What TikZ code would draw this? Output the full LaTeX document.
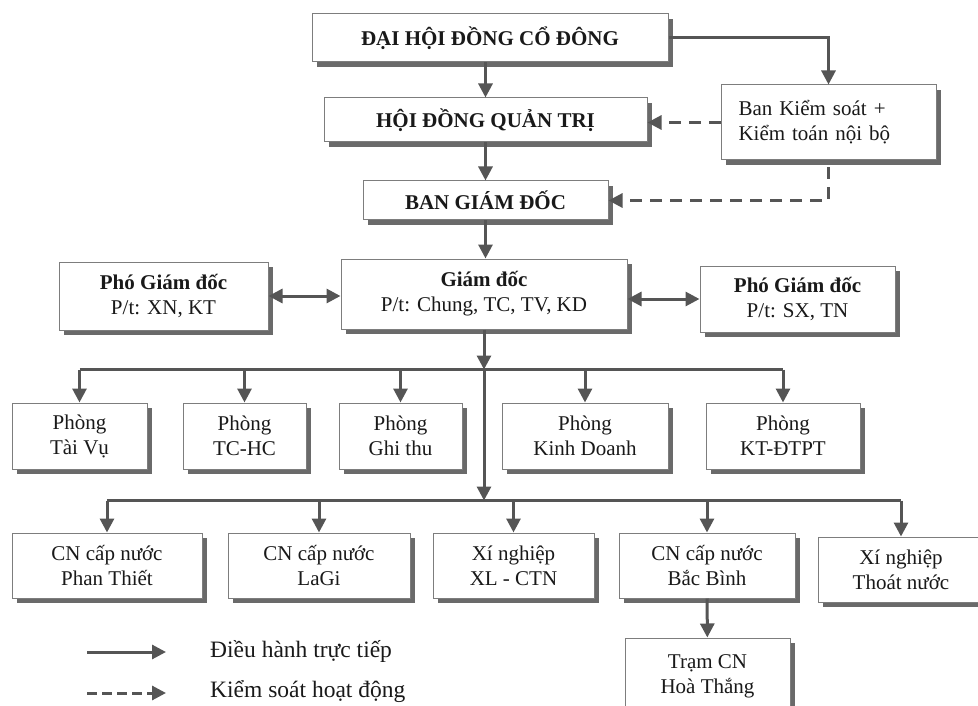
\documentclass[tikz,border=0pt]{standalone}
\usepackage{fontspec}
\setmainfont{Liberation Serif}
\usepackage{xcolor}
\usepackage{tikz}
\usetikzlibrary{arrows.meta, positioning, calc, shadows}
\definecolor{linegray}{RGB}{85, 85, 85}
\definecolor{boxgray}{RGB}{125, 125, 125}
\definecolor{shadowgray}{RGB}{90, 90, 90}
\definecolor{textgray}{RGB}{25, 25, 25}

\begin{document}
\begin{tikzpicture}[x=1pt, y=-1pt,
    unitbox/.style={draw=boxgray, line width=1pt, fill=white, align=center, text=textgray,
          inner sep=0pt, font=\fontsize{21}{25}\selectfont,
          drop shadow={shadow xshift=5pt, shadow yshift=-5pt, fill=shadowgray, opacity=0.9}},
    titlebox/.style={unitbox, font=\fontsize{21}{25}\selectfont\bfseries},
    phongbox/.style={unitbox, minimum height=66pt},
    cnbox/.style={unitbox, minimum height=65pt},
    direct/.style={line width=3pt, draw=linegray, -{Triangle[width=14pt, length=14pt]}},
    control/.style={direct, dash pattern=on 12pt off 8pt},
    mutual/.style={direct, {Triangle[width=14pt, length=14pt]}-{Triangle[width=14pt, length=14pt]}},
    bar/.style={line width=3pt, draw=linegray},
    legendtext/.style={anchor=west, inner sep=0pt, text=textgray, font=\fontsize{23.5}{27}\selectfont}]

    \path[use as bounding box] (0,0) rectangle (978,706);
    \clip (0,0) rectangle (978,706);

    % Nodes
    \node[titlebox, minimum width=356pt, minimum height=48pt] (dhdcd) at (490,38) {ĐẠI HỘI ĐỒNG CỔ ĐÔNG};
    \node[titlebox, minimum width=323pt, minimum height=44pt] (hdqt) at (485.5,120) {HỘI ĐỒNG QUẢN TRỊ};
    \node[unitbox, minimum width=215pt, minimum height=75pt, text width=180pt, align=left] (bks) at (828.5,122.5)
          {Ban Kiểm soát +\\Kiểm toán nội bộ};
    \node[titlebox, minimum width=245pt, minimum height=39pt] (bgd) at (485.5,200.5) {BAN GIÁM ĐỐC};

    \node[unitbox, minimum width=286pt, minimum height=70pt] (gd) at (484,294) {\textbf{Giám đốc}\\P/t: Chung, TC, TV, KD};
    \node[unitbox, minimum width=209pt, minimum height=68pt] (pgdxn) at (163.5,296) {\textbf{Phó Giám đốc}\\P/t: XN, KT};
    \node[unitbox, minimum width=195pt, minimum height=66pt] (pgdsx) at (797.5,299) {\textbf{Phó Giám đốc}\\P/t: SX, TN};

    \node[phongbox, minimum width=135pt] (taivu) at (79.5,436) {Phòng\\Tài Vụ};
    \node[phongbox, minimum width=123pt] (tchc) at (244.5,436) {Phòng\\TC-HC};
    \node[phongbox, minimum width=123pt] (ghithu) at (400.5,436) {Phòng\\Ghi thu};
    \node[phongbox, minimum width=166pt] (kinhdoanh) at (585,436) {Phòng\\Kinh Doanh};
    \node[phongbox, minimum width=154pt] (ktdtpt) at (783,436) {Phòng\\KT-ĐTPT};

    \node[cnbox, minimum width=190pt] (phanthiet) at (107,565.5) {CN cấp nước\\Phan Thiết};
    \node[cnbox, minimum width=182pt] (lagi) at (319,565.5) {CN cấp nước\\LaGi};
    \node[cnbox, minimum width=161pt] (xlctn) at (513.5,565.5) {Xí nghiệp\\XL - CTN};
    \node[cnbox, minimum width=176pt] (bacbinh) at (707,565.5) {CN cấp nước\\Bắc Bình};
    \node[cnbox, minimum width=166pt] (thoatnuoc) at (901,569.5) {Xí nghiệp\\Thoát nước};
    \node[unitbox, minimum width=165pt, minimum height=76pt] (hoathang) at (707.5,676) {Trạm CN\\Hoà Thắng};

    % Arrows
    \draw[direct] (hdqt.north |- dhdcd.south) -- (hdqt.north);
    \draw[direct] (hdqt) -- (bgd);
    \draw[direct] (bgd.south) -- (bgd.south |- gd.north);
    \draw[direct] (dhdcd.east) -| (bks.north);
    \draw[control] (bks.west) -- (bks.west -| hdqt.east);
    \draw[control] ($(bks.south)+(0,7)$) |- (bgd.east);

    \draw[mutual] (pgdxn.east) -- (pgdxn.east -| gd.west);
    \draw[mutual] (gd.east |- pgdsx.west) -- (pgdsx.west);

    \coordinate (split1) at ($(gd.south)+(0,40)$);
    \coordinate (split2) at ($(split1)+(0,131)$);
    \draw[direct] (gd.south) -- (split1);
    \draw[bar] (split1 -| taivu.north) -- (split1 -| ktdtpt.north);
    \foreach \n in {taivu, tchc, ghithu, kinhdoanh, ktdtpt}
        \draw[direct] (split1 -| \n.north) -- (\n.north);

    \draw[direct] (split1) -- (split2);
    \draw[bar] (split2 -| phanthiet.north) -- (split2 -| thoatnuoc.north);
    \foreach \n in {phanthiet, lagi, xlctn, bacbinh, thoatnuoc}
        \draw[direct] (split2 -| \n.north) -- (\n.north);
    \draw[direct] (bacbinh) -- (hoathang);

    % Legend
    \coordinate (solidfrom) at (87,652);
    \coordinate (solidto) at (166,652);
    \coordinate (dashfrom) at (87,693);
    \coordinate (dashto) at (166,693);
    \draw[direct] (solidfrom) -- (solidto);
    \draw[control, dash pattern=on 10pt off 5pt] (dashfrom) -- (dashto);
    \node[legendtext] (solidlabel) at (210,651) {Điều hành trực tiếp};
    \node[legendtext] (dashlabel) at (210,692) {Kiểm soát hoạt động};
\end{tikzpicture}
\end{document}
